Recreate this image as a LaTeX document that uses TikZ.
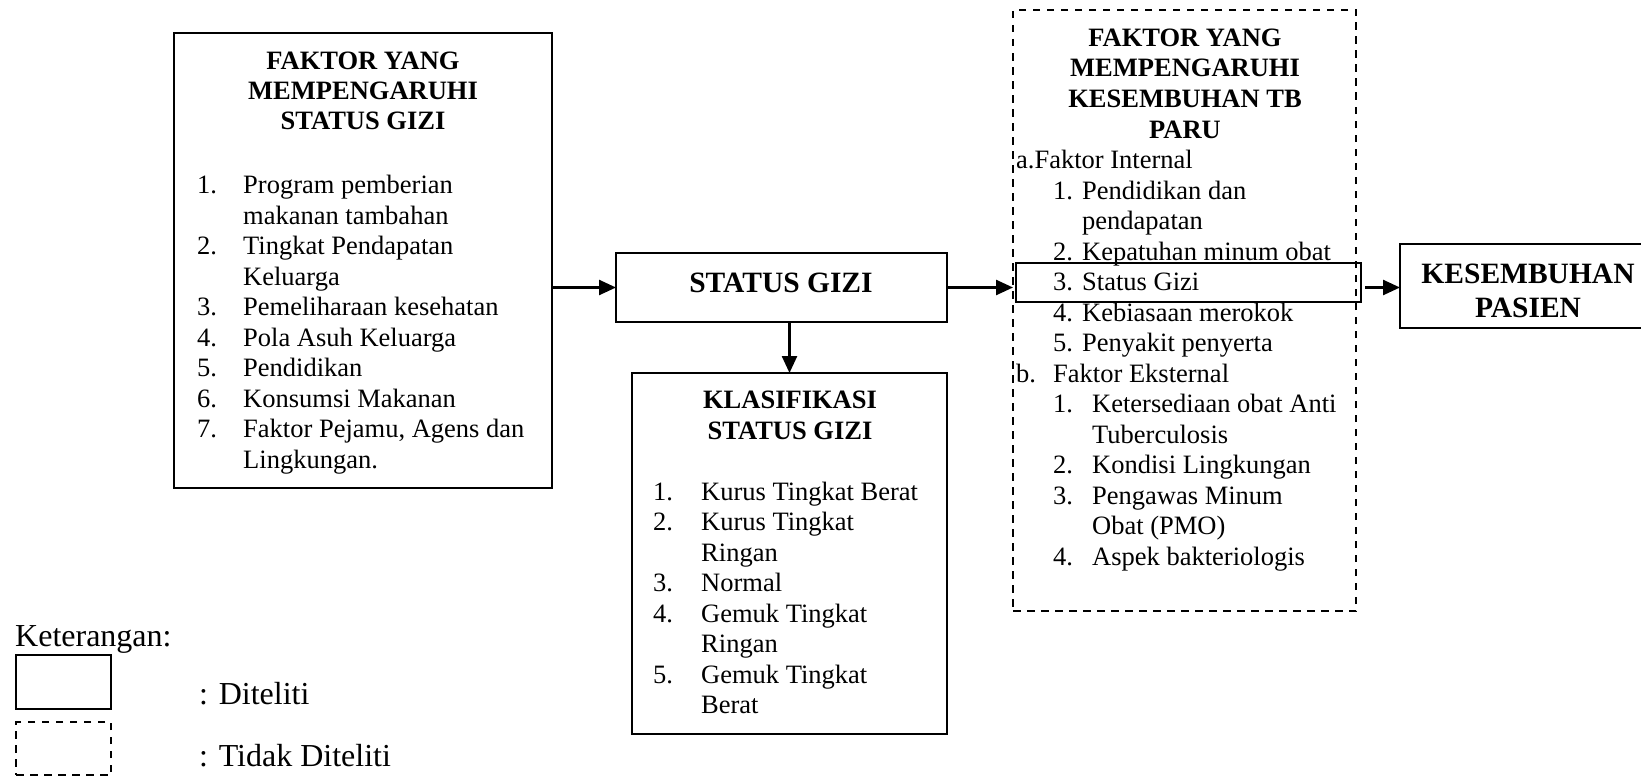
\documentclass[tikz,border=0pt]{standalone}
\usepackage{fontspec}
\setmainfont{Liberation Serif}
\usetikzlibrary{arrows.meta}
\newcommand\bodyfont{\fontsize{26.5}{30.5}\selectfont}
\newcommand\bigbf{\fontsize{29.5}{34}\selectfont\bfseries}
\newcommand\legfont{\fontsize{32}{36}\selectfont}
\tikzset{
  box/.style={draw, line width=2.2pt, inner sep=0pt, outer sep=0pt, anchor=north west},
  dbox/.style={box, line width=2pt, dash pattern=on 7.5pt off 6.5pt},
  tx/.style={anchor=base west, inner sep=0pt, font=\bodyfont},
  tt/.style={anchor=base, inner sep=0pt, font=\bodyfont\bfseries},
  arr/.style={line width=2.5pt, -{Triangle[length=17pt,width=15pt]}}
}
\begin{document}
\begin{tikzpicture}[x=1pt,y=-1pt]
\fill[white] (0,0) rectangle (1641,776);
\clip (0,0) rectangle (1641,776);
% boxes
\node[box, minimum width=378pt, minimum height=455pt] (b1) at (174,33) {};
\node[box, minimum width=331pt, minimum height=69pt] (sg) at (616,253) {};
\node[box, minimum width=315pt, minimum height=361pt] (kl) at (632,373) {};
\node[dbox, minimum width=343pt, minimum height=601pt] (fk) at (1013,10) {};
\node[box, minimum width=345pt, minimum height=39pt] (in) at (1016,263) {};
\node[box, minimum width=256pt, minimum height=84pt] (ks) at (1400,244) {};
\node[box, minimum width=95pt, minimum height=54pt] (l1) at (16,655) {};
\node[dbox, minimum width=95pt, minimum height=53pt] (l2) at (16,722) {};
% box 1 text
\node[tt] (b1t1) at (363,70) {FAKTOR YANG};
\node[tt] (b1t2) at (363,99.5) {MEMPENGARUHI};
\node[tt] (b1t3) at (363,129) {STATUS GIZI};
\node[tx] at (197,193.5) {1.}; \node[tx] at (243,193.5) {Program pemberian};
\node[tx] at (243,224) {makanan tambahan};
\node[tx] at (197,254.5) {2.}; \node[tx] at (243,254.5) {Tingkat Pendapatan};
\node[tx] at (243,285) {Keluarga};
\node[tx] at (197,315.5) {3.}; \node[tx] at (243,315.5) {Pemeliharaan kesehatan};
\node[tx] at (197,346) {4.}; \node[tx] at (243,346) {Pola Asuh Keluarga};
\node[tx] at (197,376.5) {5.}; \node[tx] at (243,376.5) {Pendidikan};
\node[tx] at (197,407) {6.}; \node[tx] at (243,407) {Konsumsi Makanan};
\node[tx] at (197,437.5) {7.}; \node[tx] at (243,437.5) {Faktor Pejamu, Agens dan};
\node[tx] at (243,468) {Lingkungan.};
% status gizi
\node[anchor=base, inner sep=0pt, font=\bigbf] (sgt) at (781,292) {STATUS GIZI};
% klasifikasi
\node[tt] at (790,408.5) {KLASIFIKASI};
\node[tt] at (790,439) {STATUS GIZI};
\node[tx] at (653,500) {1.}; \node[tx] at (701,500) {Kurus Tingkat Berat};
\node[tx] at (653,530.5) {2.}; \node[tx] at (701,530.5) {Kurus Tingkat};
\node[tx] at (701,561) {Ringan};
\node[tx] at (653,591.5) {3.}; \node[tx] at (701,591.5) {Normal};
\node[tx] at (653,622) {4.}; \node[tx] at (701,622) {Gemuk Tingkat};
\node[tx] at (701,652.5) {Ringan};
\node[tx] at (653,683) {5.}; \node[tx] at (701,683) {Gemuk Tingkat};
\node[tx] at (701,713.5) {Berat};
% faktor kesembuhan
\node[tt] at (1185,46.5) {FAKTOR YANG};
\node[tt] at (1185,77) {MEMPENGARUHI};
\node[tt] at (1185,107.5) {KESEMBUHAN TB};
\node[tt] at (1185,138) {PARU};
\node[tx] at (1016,168.5) {a.Faktor Internal};
\node[tx] at (1053,199) {1.}; \node[tx] at (1082,199) {Pendidikan dan};
\node[tx] at (1082,229.5) {pendapatan};
\node[tx] at (1053,260) {2.}; \node[tx] at (1082,260) {Kepatuhan minum obat};
\node[tx] at (1053,290.5) {3.}; \node[tx] at (1082,290.5) {Status Gizi};
\node[tx] at (1053,321) {4.}; \node[tx] at (1082,321) {Kebiasaan merokok};
\node[tx] at (1053,351.5) {5.}; \node[tx] at (1082,351.5) {Penyakit penyerta};
\node[tx] at (1016,382) {b.}; \node[tx] at (1053,382) {Faktor Eksternal};
\node[tx] at (1053,412.5) {1.}; \node[tx] at (1092,412.5) {Ketersediaan obat Anti};
\node[tx] at (1092,443) {Tuberculosis};
\node[tx] at (1053,473.5) {2.}; \node[tx] at (1092,473.5) {Kondisi Lingkungan};
\node[tx] at (1053,504) {3.}; \node[tx] at (1092,504) {Pengawas Minum};
\node[tx] at (1092,534.5) {Obat (PMO)};
\node[tx] at (1053,565) {4.}; \node[tx] at (1092,565) {Aspek bakteriologis};
% kesembuhan
\node[anchor=base, inner sep=0pt, font=\bigbf] at (1528,283) {KESEMBUHAN};
\node[anchor=base, inner sep=0pt, font=\bigbf] at (1528,317) {PASIEN};
% legend
\node[anchor=base west, inner sep=0pt, font=\legfont] (ket) at (15,646) {Keterangan:};
\node[anchor=base west, inner sep=0pt, font=\legfont] (ld1) at (199,704) {: Diteliti};
\node[anchor=base west, inner sep=0pt, font=\legfont] (ld2) at (199,766) {: Tidak Diteliti};
% connectors
\draw[arr] (sg.west -| b1.east) -- (sg.west);
\draw[arr] (sg.east) -- (sg.east -| fk.west);
\draw[arr] (kl.north |- sg.south) -- (kl.north);
\draw[arr] ([xshift=4pt]in.east |- sg.east) -- (ks.west |- sg.east);
\end{tikzpicture}
\end{document}
